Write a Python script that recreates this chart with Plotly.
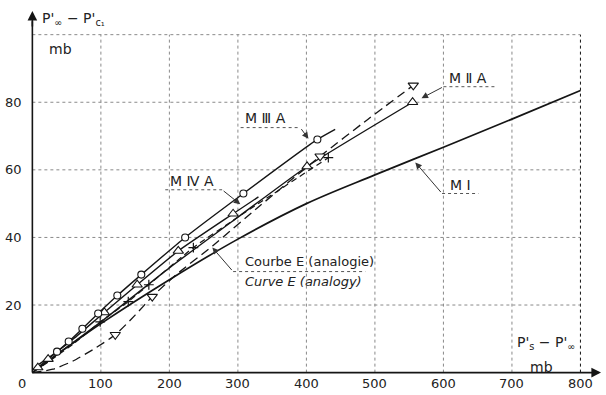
import plotly.graph_objects as go

# ---------------- data ----------------
x_ticks = [100, 200, 300, 400, 500, 600, 700, 800]
y_ticks = [20, 40, 60, 80]

mi_x = [0, 50, 100, 200, 300, 400, 500, 600, 700, 800]
mi_y = [0, 7.4, 14.5, 27.5, 39.5, 50, 58.5, 66.7, 75, 83.5]

m3_x = [10, 36, 53, 73, 96, 124, 159, 223, 308, 416, 442]
m3_y = [2.5, 6.2, 9.2, 13, 17.5, 22.8, 29, 40, 53, 69, 72]
m3_px = [36, 53, 73, 96, 124, 159, 223, 308, 416]
m3_py = [6.2, 9.2, 13, 17.5, 22.8, 29, 40, 53, 69]

m4_x = [8, 23, 60, 105, 153, 213, 293, 330]
m4_y = [1.5, 4, 10, 17.8, 26, 36, 47, 52]
m4_px = [8, 23, 105, 153, 213, 293]
m4_py = [1.5, 4, 17.8, 26, 36, 47]

m2_x = [0, 100, 200, 300, 401, 555]
m2_y = [0, 15, 31, 46, 61, 80]
m2_px = [401, 555]
m2_py = [61, 80]

plus_x = [15, 60, 99, 140, 170, 235, 300, 432]
plus_y = [2, 8.5, 15, 21, 26, 37, 46, 63.6]
plus_px = [99, 140, 170, 235, 432]
plus_py = [15, 21, 26, 37, 63.6]

ce_x = [0, 30, 60, 90, 121, 150, 175, 210, 263, 330, 420, 490, 556]
ce_y = [0, 1, 3.5, 7, 11.2, 17, 22.5, 29, 37.5, 49, 64, 75, 85]
ce_px = [121, 175, 420, 556]
ce_py = [11.2, 22.5, 64, 85]

INK = "#151515"
GRID = "#8a8a8a"
FONT = "DejaVu Sans"
XR = [-2, 830]
YR = [-1, 107]

def px_(x):
    return (x - XR[0]) / (XR[1] - XR[0])

def py_(y):
    return (y - YR[0]) / (YR[1] - YR[0])

fig = go.Figure()

def add_line(x, y, width=1.4, dash="solid", smoothing=0.5):
    fig.add_trace(go.Scatter(x=x, y=y, mode="lines", showlegend=False,
                             line=dict(color=INK, width=width, dash=dash, shape="spline", smoothing=smoothing),
                             hoverinfo="skip"))

def add_marks(x, y, symbol, size):
    fig.add_trace(go.Scatter(x=x, y=y, mode="markers", showlegend=False,
                             marker=dict(symbol=symbol, size=size, color="white",
                                         line=dict(color=INK, width=1.1)),
                             hoverinfo="skip"))

add_line(mi_x, mi_y, width=1.7, smoothing=1.0)
add_line(m2_x, m2_y)
add_line(m4_x, m4_y)
add_line(plus_x, plus_y, width=1.2, dash="6px,4px")
add_line(ce_x, ce_y, width=1.3, dash="9px,5px")
add_line(m3_x, m3_y)
add_marks(m2_px, m2_py, "triangle-up", 9)
add_marks(m4_px, m4_py, "triangle-up", 9)
fig.add_trace(go.Scatter(x=plus_px, y=plus_py, mode="markers", showlegend=False,
                         marker=dict(symbol="cross-thin", size=7, line=dict(color=INK, width=1.2)),
                         hoverinfo="skip"))
add_marks(ce_px, ce_py, "triangle-down", 9)
add_marks(m3_px, m3_py, "circle", 7)

shapes = []
for xv in x_ticks:
    shapes.append(dict(type="line", x0=xv, x1=xv, y0=0, y1=100, xref="x", yref="y",
                       line=dict(color=INK if xv == 800 else GRID, width=1, dash="dot"), layer="below"))
for yv in y_ticks + [100]:
    shapes.append(dict(type="line", x0=0, x1=800, y0=yv, y1=yv, xref="x", yref="y",
                       line=dict(color=GRID, width=1, dash="dot"), layer="below"))
shapes.append(dict(type="line", x0=0, x1=822, y0=0, y1=0, xref="x", yref="y",
                   line=dict(color=INK, width=1.6)))
shapes.append(dict(type="line", x0=0, x1=0, y0=0, y1=104, xref="x", yref="y",
                   line=dict(color=INK, width=1.6)))

def seg(x0, y0, x1, y1):
    shapes.append(dict(type="line", x0=x0, x1=x1, y0=y0, y1=y1, xref="x", yref="y",
                       line=dict(color="#555", width=1, dash="dot")))

seg(304, 72.5, 391, 72.5)     # M III A
seg(194, 54.1, 277, 54.1)     # M IV A
seg(600, 84.6, 676, 84.6)     # M II A
seg(598, 53.0, 651, 53.0)     # M I
seg(293, 29.9, 486, 29.9)     # Courbe E separator

ann = []

def text(x, y, s, font, xanchor="center"):
    ann.append(dict(x=px_(x), y=py_(y), text=s, showarrow=False, xref="paper", yref="paper",
                    xanchor=xanchor, yanchor="middle", font=font))

tf = dict(family=FONT, size=13, color="#222")
for xv in x_ticks:
    text(xv, -3.1, str(xv), tf)
for yv in y_ticks:
    text(-11.5, yv, str(yv), tf, xanchor="right")
text(-14.5, -3.1, "0", tf)

ann.append(dict(x=830, y=0, ax=815, ay=0, axref="x", ayref="y", xref="x", yref="y", text="",
                showarrow=True, arrowhead=2, arrowsize=1.2, arrowwidth=1.6, arrowcolor=INK))
ann.append(dict(x=0, y=107, ax=0, ay=102, axref="x", ayref="y", xref="x", yref="y", text="",
                showarrow=True, arrowhead=2, arrowsize=1.2, arrowwidth=1.6, arrowcolor=INK))

af = dict(family=FONT, size=14, color="#222")
text(11.5, 104.6, "P'<sub>∞</sub> − P'<sub>c₁</sub>", af, xanchor="left")
text(41, 95.8, "mb", af)
text(705, 8.9, "P'<sub>s</sub> − P'<sub>∞</sub>", af, xanchor="left")
text(743, 1.7, "mb", af)

lf = dict(family=FONT, size=14, color="#222")
text(340, 75.4, "M Ⅲ A", lf)
text(233.5, 56.6, "M Ⅳ A", lf)
text(636.5, 87.1, "M Ⅱ A", lf)
text(625, 55.6, "M Ⅰ", lf)
cf = dict(family=FONT, size=13, color="#222")
text(308, 32.8, "Courbe E (analogie)", cf, xanchor="left")
text(308, 27.0, "<i>Curve E (analogy)</i>", cf, xanchor="left")

def leader(x0, y0, x1, y1):
    ann.append(dict(x=x1, y=y1, ax=x0, ay=y0, axref="x", ayref="y", xref="x", yref="y", text="",
                    showarrow=True, arrowhead=2, arrowsize=1.3, arrowwidth=1, arrowcolor="#333"))

leader(391, 72.5, 403, 69.2)
leader(277, 54.1, 303.5, 49.8)
leader(600, 84.6, 568, 81.2)
leader(598, 53.0, 559, 62.2)
leader(293, 29.9, 262.7, 37.0)

fig.update_layout(
    width=606, height=395,
    margin=dict(l=31, r=5, t=11, b=19),
    paper_bgcolor="white", plot_bgcolor="white",
    xaxis=dict(range=XR, visible=False, showgrid=False, zeroline=False),
    yaxis=dict(range=YR, visible=False, showgrid=False, zeroline=False),
    shapes=shapes, annotations=ann, showlegend=False,
)

fig.write_html("out.html")
